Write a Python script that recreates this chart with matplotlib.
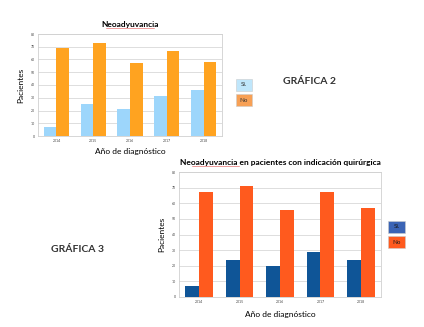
import matplotlib
matplotlib.use("Agg")
import matplotlib.pyplot as plt
import numpy as np

plt.rcParams['font.family'] = ['Lato', 'DejaVu Sans']

# Data
years = ["2014", "2015", "2016", "2017", "2018"]
si_g2 = [7, 25, 21, 31, 36]
no_g2 = [69, 73, 57, 67, 58]
si_g3 = [7, 24, 20, 29, 24]
no_g3 = [67, 71, 56, 67, 57]

W, H = 424, 327
fig = plt.figure(figsize=(W / 100, H / 100), dpi=100)


def px_axes(left, top, right, bottom):
    return fig.add_axes([left / W, (H - bottom) / H, (right - left) / W, (bottom - top) / H])


def bar_chart(ax, si, no, c_si, c_no, title, xpad, tpad):
    x = np.arange(len(years))
    w = 0.34
    ax.bar(x - w / 2, si, w, color=c_si, zorder=3)
    ax.bar(x + w / 2, no, w, color=c_no, zorder=3)
    ax.set_xlim(-0.5, len(years) - 0.5)
    ax.set_ylim(0, 80)
    ax.set_yticks(range(0, 81, 10))
    ax.set_xticks(x)
    ax.set_xticklabels(years)
    ax.tick_params(labelsize=2.5, length=0, pad=2, colors="#444444")
    ax.grid(axis="y", color="#d8d8d8", linewidth=0.6, zorder=0)
    for s in ax.spines.values():
        s.set_color("#d0d0d0")
        s.set_linewidth(0.6)
    ax.set_ylabel("Pacientes", fontsize=6, labelpad=5)
    ax.set_xlabel("Año de diagnóstico", fontsize=6, labelpad=xpad)
    ax.set_title(title, fontsize=6, fontweight="bold", pad=tpad)


def squiggle(x0, x1, y):
    fig.lines.append(plt.Line2D([x0 / W, x1 / W], [1 - y / H, 1 - y / H],
                                transform=fig.transFigure, color="#e05050", linewidth=0.4))


# Gráfica 2
ax1 = px_axes(38, 34, 222, 136)
bar_chart(ax1, si_g2, no_g2, "#9dd6fb", "#ffa320", "Neoadyuvancia", 3.5, 5)
squiggle(106, 154, 28)

# Gráfica 3
ax2 = px_axes(179, 172, 381, 297)
bar_chart(ax2, si_g3, no_g3, "#0f5597", "#ff5a1e",
          "Neoadyuvancia en pacientes con indicación quirúrgica", 5, 5)
squiggle(192, 239, 166)


# Legend boxes
def legend_box(x, y, w, h, color, text, tcolor):
    fig.patches.append(plt.Rectangle((x / W, 1 - (y + h) / H), w / W, h / H,
                                     transform=fig.transFigure, facecolor=color,
                                     edgecolor="#cccccc", linewidth=0.4))
    fig.text((x + w / 2) / W, 1 - (y + h / 2) / H, text, fontsize=4.5,
             ha="center", va="center", color=tcolor)


legend_box(236, 79, 16, 12, "#bfe6fb", "Sí.", "#333333")
legend_box(236, 94, 16, 12, "#f7a055", "No", "#333333")
legend_box(388, 221, 17, 12, "#3b64b5", "Sí.", "#1a1a1a")
legend_box(388, 236, 17, 12, "#ff5a1e", "No", "#1a1a1a")

fig.text(283 / W, 1 - 81 / H, "GRÁFICA 2", fontsize=7.5, fontweight="bold",
         va="center", color="#333333")
fig.text(51 / W, 1 - 249 / H, "GRÁFICA 3", fontsize=7.5, fontweight="bold",
         va="center", color="#333333")

fig.savefig("out.png", dpi=100)
